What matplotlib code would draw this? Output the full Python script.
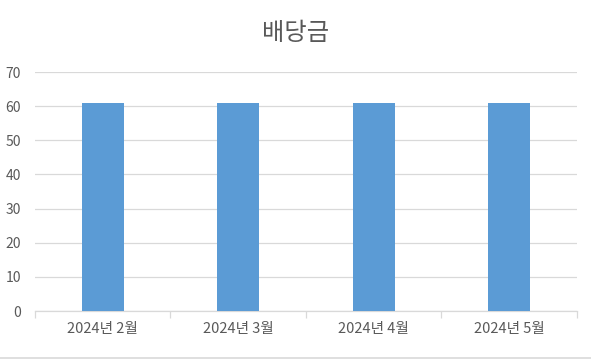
import matplotlib.pyplot as plt
from matplotlib.lines import Line2D

plt.rcParams['font.family'] = ['Noto Sans CJK KR', 'DejaVu Sans']

categories = ["2024년 2월", "2024년 3월", "2024년 4월", "2024년 5월"]
dividends = [61, 61, 61, 61]

text_color = "#595959"
grid_color = "#D9D9D9"

fig = plt.figure(figsize=(5.91, 3.6), dpi=100)
ax = fig.add_axes([0.0592, 0.1361, 0.9171, 0.6639])

x = list(range(len(categories)))
ax.bar(x, dividends, width=0.31, color="#5B9BD5", zorder=3)

ax.set_xlim(-0.5, len(categories) - 0.5)
ax.set_ylim(0, 70)
ax.set_yticks(range(0, 71, 10))
ax.yaxis.grid(True, color=grid_color, linewidth=0.9, zorder=0)

ax.set_xticks(x)
ax.set_xticklabels(categories)
ax.set_xticks([i - 0.5 for i in range(len(categories) + 1)], minor=True)
ax.tick_params(axis="x", which="major", length=0, pad=8, labelsize=10.5, labelcolor=text_color)
ax.tick_params(axis="x", which="minor", length=5, color=grid_color, width=0.9)
ax.tick_params(axis="y", length=0, pad=10, labelsize=10, labelcolor=text_color)

for side in ["top", "right", "left"]:
    ax.spines[side].set_visible(False)
ax.spines["bottom"].set_color(grid_color)
ax.spines["bottom"].set_linewidth(0.9)

fig.suptitle("배당금", y=0.945, fontsize=17.5, color=text_color)

# chart border line at the bottom
fig.add_artist(Line2D([0, 1], [0.006, 0.006], color=grid_color, linewidth=1.2,
                      transform=fig.transFigure))

fig.savefig("out.png", dpi=100)
